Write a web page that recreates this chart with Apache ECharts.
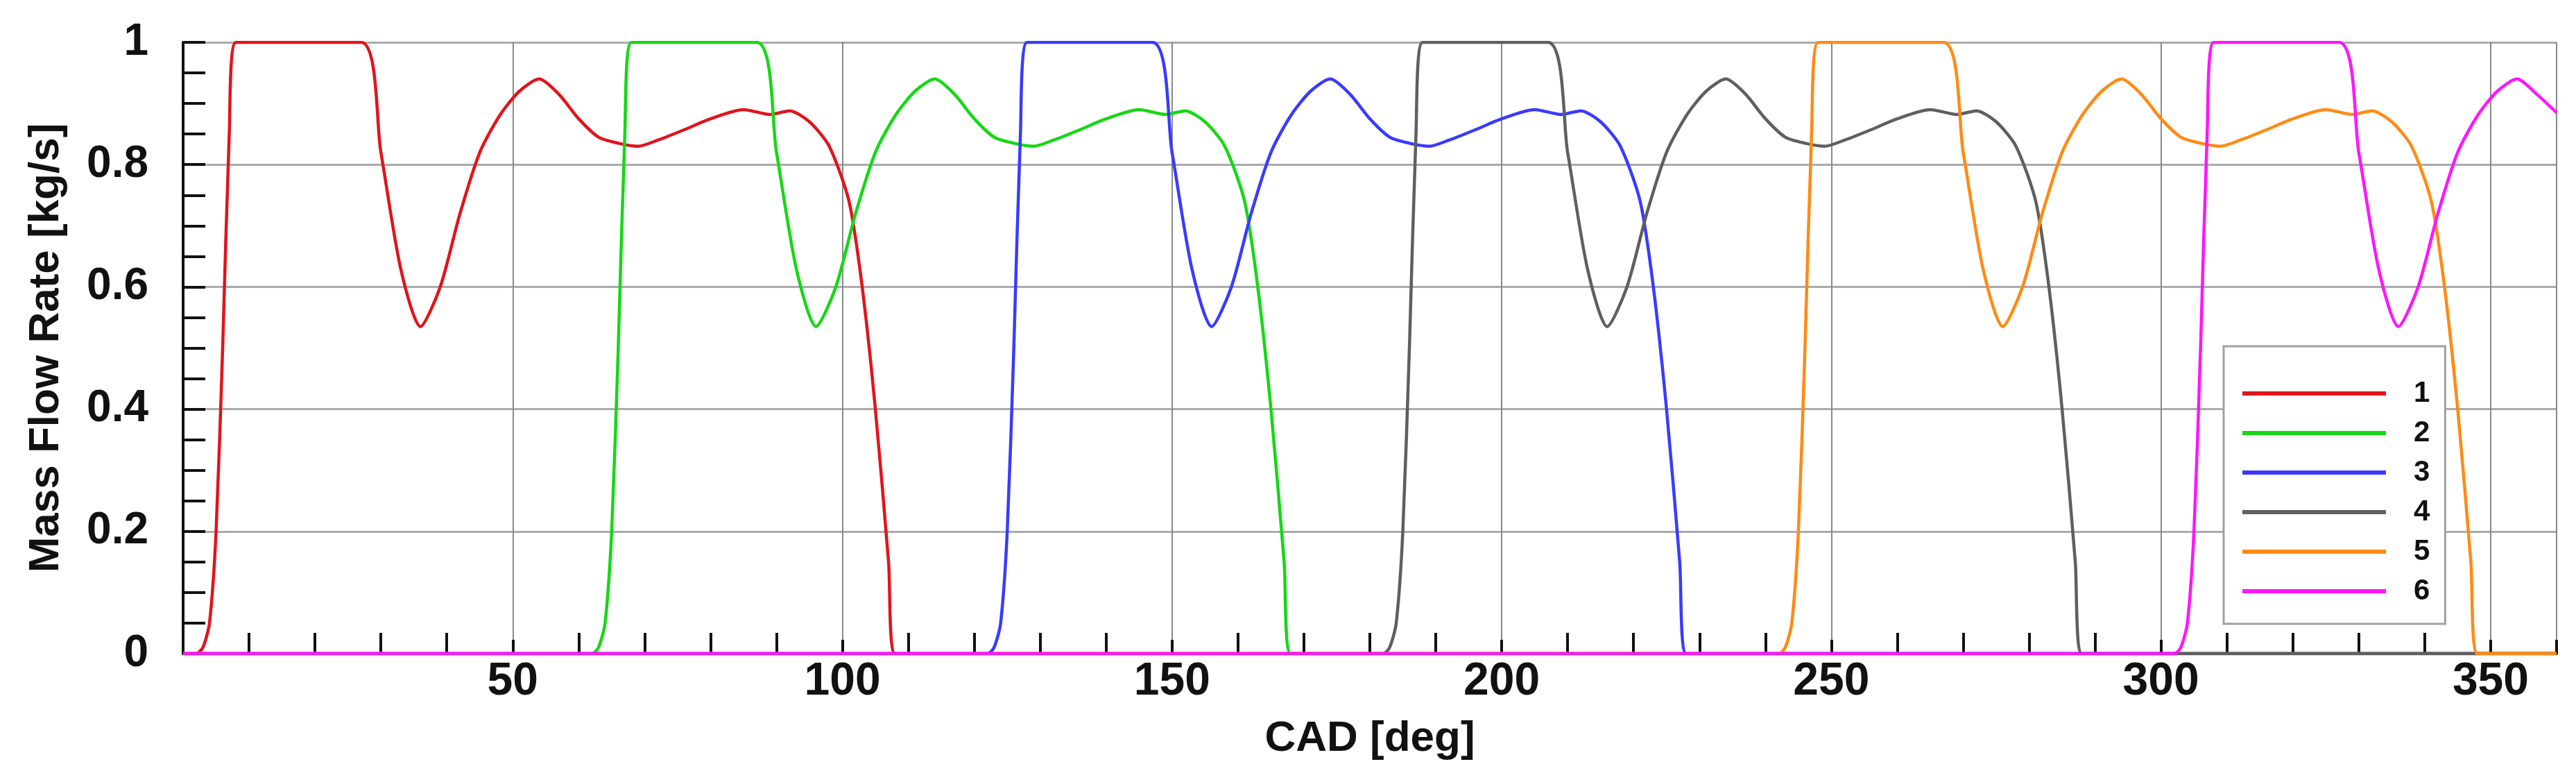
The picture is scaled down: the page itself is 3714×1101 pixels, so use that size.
<!DOCTYPE html>
<html><head><meta charset="utf-8">
<script src="https://cdn.jsdelivr.net/npm/echarts@6/dist/echarts.min.js"></script>
<style>html,body{margin:0;padding:0;background:#fff}#c{width:3714px;height:1101px}</style>
</head><body><div id="c"></div>
<script>
const seriesNames = ['1','2','3','4','5','6'];
const colors = ['#e0141c','#14d814','#3a3aff','#5f5f5f','#ff8a14','#ff14ff'];
const xTickLabels = [50,100,150,200,250,300,350];
const yTickLabels = ['0','0.2','0.4','0.6','0.8','1'];
const s1 = [[0,0],[2,0],[3,0.01],[4,0.05],[5,0.2],[6,0.5],[7,0.85],[8,1],[27,1],[30,0.82],[33,0.63],[36,0.535],[39,0.6],[42,0.72],[45,0.82],[48,0.88],[51,0.92],[54,0.94],[57,0.915],[60,0.875],[63,0.845],[66,0.835],[69,0.83],[72,0.84],[76,0.857],[80,0.875],[85,0.89],[89,0.882],[92,0.888],[95,0.87],[98,0.83],[101,0.74],[103,0.6],[105,0.4],[107,0.15],[108,0],[360,0]];
const s2 = [[0,0],[62,0],[63,0.01],[64,0.05],[65,0.2],[66,0.5],[67,0.85],[68,1],[87,1],[90,0.82],[93,0.63],[96,0.535],[99,0.6],[102,0.72],[105,0.82],[108,0.88],[111,0.92],[114,0.94],[117,0.915],[120,0.875],[123,0.845],[126,0.835],[129,0.83],[132,0.84],[136,0.857],[140,0.875],[145,0.89],[149,0.882],[152,0.888],[155,0.87],[158,0.83],[161,0.74],[163,0.6],[165,0.4],[167,0.15],[168,0],[360,0]];
const s3 = [[0,0],[122,0],[123,0.01],[124,0.05],[125,0.2],[126,0.5],[127,0.85],[128,1],[147,1],[150,0.82],[153,0.63],[156,0.535],[159,0.6],[162,0.72],[165,0.82],[168,0.88],[171,0.92],[174,0.94],[177,0.915],[180,0.875],[183,0.845],[186,0.835],[189,0.83],[192,0.84],[196,0.857],[200,0.875],[205,0.89],[209,0.882],[212,0.888],[215,0.87],[218,0.83],[221,0.74],[223,0.6],[225,0.4],[227,0.15],[228,0],[360,0]];
const s4 = [[0,0],[182,0],[183,0.01],[184,0.05],[185,0.2],[186,0.5],[187,0.85],[188,1],[207,1],[210,0.82],[213,0.63],[216,0.535],[219,0.6],[222,0.72],[225,0.82],[228,0.88],[231,0.92],[234,0.94],[237,0.915],[240,0.875],[243,0.845],[246,0.835],[249,0.83],[252,0.84],[256,0.857],[260,0.875],[265,0.89],[269,0.882],[272,0.888],[275,0.87],[278,0.83],[281,0.74],[283,0.6],[285,0.4],[287,0.15],[288,0],[360,0]];
const s5 = [[0,0],[242,0],[243,0.01],[244,0.05],[245,0.2],[246,0.5],[247,0.85],[248,1],[267,1],[270,0.82],[273,0.63],[276,0.535],[279,0.6],[282,0.72],[285,0.82],[288,0.88],[291,0.92],[294,0.94],[297,0.915],[300,0.875],[303,0.845],[306,0.835],[309,0.83],[312,0.84],[316,0.857],[320,0.875],[325,0.89],[329,0.882],[332,0.888],[335,0.87],[338,0.83],[341,0.74],[343,0.6],[345,0.4],[347,0.15],[348,0],[360,0]];
const s6 = [[0,0],[302,0],[303,0.01],[304,0.05],[305,0.2],[306,0.5],[307,0.85],[308,1],[327,1],[330,0.82],[333,0.63],[336,0.535],[339,0.6],[342,0.72],[345,0.82],[348,0.88],[351,0.92],[354,0.94],[357,0.915],[360,0.885]];
const allData = [s1,s2,s3,s4,s5,s6];

const chart = echarts.init(document.getElementById('c'));
const F = 'Liberation Sans, Arial, sans-serif';
chart.setOption({
  animation:false,
  grid:{left:264,right:28,top:61,bottom:159,containLabel:false},
  legend:{
    data:seriesNames, orient:'vertical', left:3206, top:499,
    padding:[47,22,26,27], itemGap:15, itemWidth:207, itemHeight:6, icon:'rect',
    backgroundColor:'#fff', borderColor:'#a0a0a0', borderWidth:3,
    textStyle:{fontFamily:F,fontWeight:'bold',fontSize:42,lineHeight:40,color:'#111',padding:[0,0,0,35]}
  },
  xAxis:{
    type:'value', min:0, max:360, interval:50,
    name:'CAD [deg]', nameLocation:'middle', nameGap:92,
    nameTextStyle:{fontFamily:F,fontWeight:'bold',fontSize:62,color:'#111'},
    axisLine:{onZero:false,lineStyle:{color:'#111',width:4}},
    axisTick:{inside:true,length:20,lineStyle:{color:'#111',width:4}},
    minorTick:{show:true,splitNumber:5,length:30,lineStyle:{color:'#111',width:4}},
    axisLabel:{fontFamily:F,fontWeight:'bold',fontSize:66,color:'#111',margin:8,
      formatter:v=>xTickLabels.includes(v)?String(v):''},
    splitLine:{show:true,lineStyle:{color:'#888',width:2}}
  },
  yAxis:{
    type:'value', min:0, max:1, interval:0.2,
    name:'Mass Flow Rate [kg/s]', nameLocation:'middle', nameGap:166, nameRotate:90,
    nameTextStyle:{fontFamily:F,fontWeight:'bold',fontSize:62,color:'#111'},
    axisLine:{show:true,lineStyle:{color:'#111',width:4}},
    axisTick:{inside:true,length:32,lineStyle:{color:'#111',width:4}},
    minorTick:{show:true,splitNumber:4,length:32,lineStyle:{color:'#111',width:4}},
    axisLabel:{fontFamily:F,fontWeight:'bold',fontSize:64,color:'#111',margin:50,
      formatter:v=>yTickLabels[Math.round(v*5)]},
    splitLine:{show:true,lineStyle:{color:'#aaa',width:3}}
  },
  series: allData.map((d,i)=>({
    name:seriesNames[i], type:'line', data:d, smooth:0.25, showSymbol:false,
    color:colors[i], lineStyle:{width:4.5,color:colors[i]}, z:3+i, clip:true
  }))
});
</script></body></html>
